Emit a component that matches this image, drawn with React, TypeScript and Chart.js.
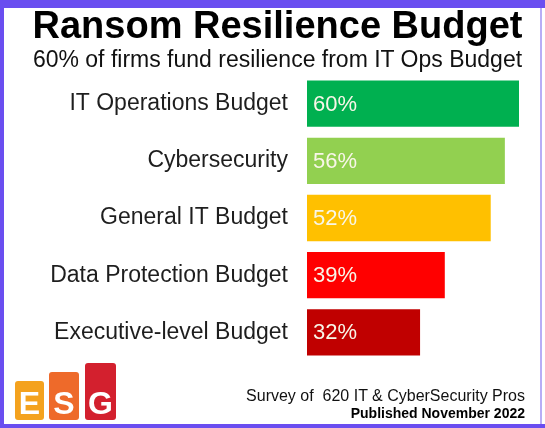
import React, { useEffect, useRef } from "react";
import { Chart, registerables } from "chart.js";

Chart.register(...registerables);

const categories = [
  "IT Operations Budget",
  "Cybersecurity",
  "General IT Budget",
  "Data Protection Budget",
  "Executive-level Budget",
];
const values = [60, 56, 52, 39, 32];
const barColors = ["#00B050", "#92D050", "#FFC000", "#FF0000", "#C00000"];
const titleText = "Ransom Resilience Budget";
const subtitleText = "60% of firms fund resilience from IT Ops Budget";
const footer1 = "Survey of  620 IT & CyberSecurity Pros";
const footer2 = "Published November 2022";

const FONT = "'Liberation Sans', Arial, sans-serif";

const valueLabels = {
  id: "valueLabels",
  afterDatasetsDraw(chart: any) {
    const ctx = chart.ctx;
    const meta = chart.getDatasetMeta(0);
    ctx.save();
    ctx.font = `22px ${FONT}`;
    ctx.fillStyle = "#f8f6e8";
    ctx.textAlign = "left";
    ctx.textBaseline = "middle";
    meta.data.forEach((bar: any, i: number) => {
      const v = chart.data.datasets[0].data[i];
      ctx.fillText(`${v}%`, bar.base + 6, bar.y + 1);
    });
    ctx.restore();
  },
};

export default function App() {
  const ref = useRef<HTMLCanvasElement>(null);
  useEffect(() => {
    if (!ref.current) return;
    const chart = new Chart(ref.current, {
      type: "bar",
      data: {
        labels: categories,
        datasets: [
          {
            data: values,
            backgroundColor: barColors,
            borderWidth: 0,
            barPercentage: 0.81,
            categoryPercentage: 1,
          },
        ],
      },
      options: {
        indexAxis: "y",
        responsive: false,
        animation: false,
        layout: { padding: { top: 75, bottom: 67, right: 26, left: 0 } },
        plugins: {
          legend: { display: false },
          tooltip: { enabled: false },
          title: { display: false },
        },
        scales: {
          x: { display: false, min: 0, max: 60 },
          y: {
            grid: { display: false },
            border: { display: false },
            ticks: {
              font: { family: FONT, size: 23 },
              color: "#1e1e1e",
              padding: 11,
            },
            afterFit(scale: any) {
              scale.width = 307;
            },
          },
        },
      },
      plugins: [valueLabels],
    });
    return () => chart.destroy();
  }, []);

  const purple = "#6a4ef0";
  return (
    <div
      style={{
        position: "fixed",
        left: 0,
        top: 0,
        width: 545,
        height: 428,
        background: "#fff",
        overflow: "hidden",
        fontFamily: FONT,
      }}
    >
      <canvas
        ref={ref}
        width={545}
        height={428}
        style={{ position: "absolute", left: 0, top: 0 }}
      />
      {/* frame */}
      <div
        style={{
          position: "absolute",
          left: 0,
          top: 0,
          width: 545,
          height: 428,
          boxSizing: "border-box",
          borderTop: `8px solid ${purple}`,
          borderLeft: `4px solid ${purple}`,
          borderBottom: `4px solid ${purple}`,
          pointerEvents: "none",
        }}
      />
      <div
        style={{
          position: "absolute",
          left: 540,
          top: 8,
          width: 2,
          height: 416,
          background: "#b8aef6",
        }}
      />
      {/* title */}
      <div
        style={{
          position: "absolute",
          left: 0,
          width: 555,
          top: 6,
          textAlign: "center",
          fontSize: 38,
          lineHeight: "38px",
          fontWeight: "bold",
          color: "#000",
          whiteSpace: "nowrap",
        }}
      >
        {titleText}
      </div>
      <div
        style={{
          position: "absolute",
          left: 0,
          width: 555,
          top: 48,
          textAlign: "center",
          fontSize: 23,
          lineHeight: "23px",
          color: "#111",
          whiteSpace: "nowrap",
        }}
      >
        {subtitleText}
      </div>
      {/* footer */}
      <div
        style={{
          position: "absolute",
          right: 20,
          top: 388,
          fontSize: 16,
          lineHeight: "16px",
          color: "#111",
          whiteSpace: "pre",
          textAlign: "right",
        }}
      >
        {footer1}
      </div>
      <div
        style={{
          position: "absolute",
          right: 20,
          top: 405,
          fontSize: 14,
          lineHeight: "16px",
          fontWeight: "bold",
          color: "#000",
          whiteSpace: "nowrap",
          textAlign: "right",
        }}
      >
        {footer2}
      </div>
      {/* ESG logo */}
      {[
        { x: 15, y: 381, w: 29, c: "#f4a21e", t: "E" },
        { x: 49, y: 372, w: 30, c: "#ee6a2a", t: "S" },
        { x: 85, y: 363, w: 31, c: "#d3202e", t: "G" },
      ].map((b) => (
        <div
          key={b.t}
          style={{
            position: "absolute",
            left: b.x,
            top: b.y,
            width: b.w,
            height: 420 - b.y,
            background: b.c,
            borderRadius: 3,
          }}
        >
          <div
            style={{
              position: "absolute",
              left: 0,
              right: 0,
              bottom: 1,
              textAlign: "center",
              color: "#fff",
              fontWeight: "bold",
              fontSize: 32,
              lineHeight: "32px",
            }}
          >
            {b.t}
          </div>
        </div>
      ))}
    </div>
  );
}
